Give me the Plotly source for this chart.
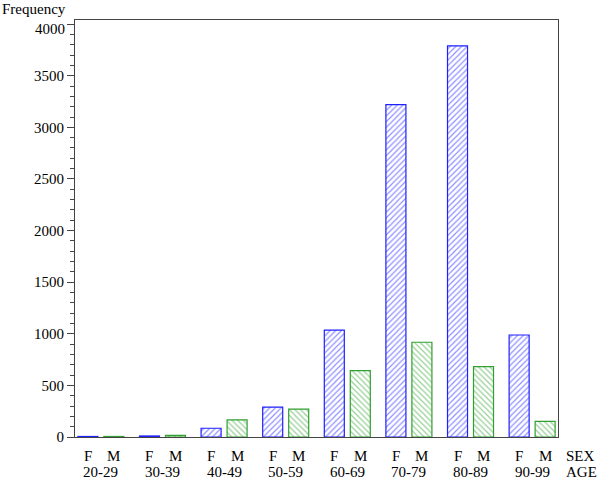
import plotly.graph_objects as go

# age groups and counts per sex
ages = ["20-29", "30-39", "40-49", "50-59", "60-69", "70-79", "80-89", "90-99"]
female = [5, 10, 85, 290, 1035, 3220, 3790, 988]
male = [5, 15, 165, 270, 643, 918, 681, 152]
sex_labels = ["F", "M"]
yticks = [0, 500, 1000, 1500, 2000, 2500, 3000, 3500, 4000]

BLUE = "#2020ff"
GREEN = "#30a030"
FONT = "Liberation Serif, Times New Roman, serif"


def make_chart():
    fig = go.Figure()

    fig.add_trace(go.Bar(
        x=ages, y=female, name="F",
        marker=dict(color="white", line=dict(color=BLUE, width=1.2),
                    pattern=dict(shape="/", fgcolor=BLUE, size=4, solidity=0.3)),
    ))
    fig.add_trace(go.Bar(
        x=ages, y=male, name="M",
        marker=dict(color="white", line=dict(color=GREEN, width=1.2),
                    pattern=dict(shape="\\", fgcolor=GREEN, size=4, solidity=0.3)),
    ))

    # подписи F/M под столбиками и возрастные группы
    off = 0.211
    txt = dict(size=15, color="black", family=FONT)
    ann = []
    for i, a in enumerate(ages):
        for k, s in enumerate(sex_labels):
            ann.append(dict(x=i + (off if k else -off), y=0, xref="x", yref="paper",
                            text=s, showarrow=False, yanchor="middle", yshift=-19,
                            font=txt))
        ann.append(dict(x=i, y=0, xref="x", yref="paper", text=a, showarrow=False,
                        yanchor="middle", yshift=-35, font=txt))
    ann.append(dict(x=1, y=0, xref="paper", yref="paper", text="SEX", showarrow=False,
                    xanchor="left", yanchor="middle", xshift=6, yshift=-19, font=txt))
    ann.append(dict(x=1, y=0, xref="paper", yref="paper", text="AGE", showarrow=False,
                    xanchor="left", yanchor="middle", xshift=6, yshift=-35, font=txt))
    ann.append(dict(x=0, y=1, xref="paper", yref="paper", text="Frequency", showarrow=False,
                    xanchor="right", yanchor="middle", xshift=-7, yshift=11, font=txt))
    # верхняя метка чуть ниже своего штриха, как в оригинале
    ann.append(dict(x=0, y=yticks[-1], xref="paper", yref="y", text=str(yticks[-1]),
                    showarrow=False, xanchor="right", yanchor="middle", xshift=-8,
                    yshift=-5, font=txt))
    ticktext = [str(v) for v in yticks[:-1]] + [""]

    fig.update_layout(
        width=600, height=484,
        margin=dict(l=75, r=42, t=20, b=47),
        paper_bgcolor="white", plot_bgcolor="white",
        barmode="group", bargap=0.156, bargroupgap=0.23,
        showlegend=False,
        font=dict(family=FONT, size=15, color="black"),
        annotations=ann,
        xaxis=dict(range=[-0.42, 7.42], showticklabels=False, ticks="",
                   showline=True, linecolor="#444", linewidth=1, mirror=True,
                   showgrid=False, zeroline=False),
        yaxis=dict(range=[0, 4040], tickvals=yticks, ticktext=ticktext,
                   ticks="outside", ticklen=7,
                   tickcolor="#444", showline=True, linecolor="#444", linewidth=1,
                   mirror=True, showgrid=False, zeroline=False,
                   tickfont=txt,
                   minor=dict(dtick=100, ticks="outside", ticklen=4, tickcolor="#444")),
    )
    return fig


fig = make_chart()
# убираем отступ body, чтобы график стоял в углу окна
fig.write_html("out.html", config={"displayModeBar": False},
               post_script="document.body.style.margin='0';")
